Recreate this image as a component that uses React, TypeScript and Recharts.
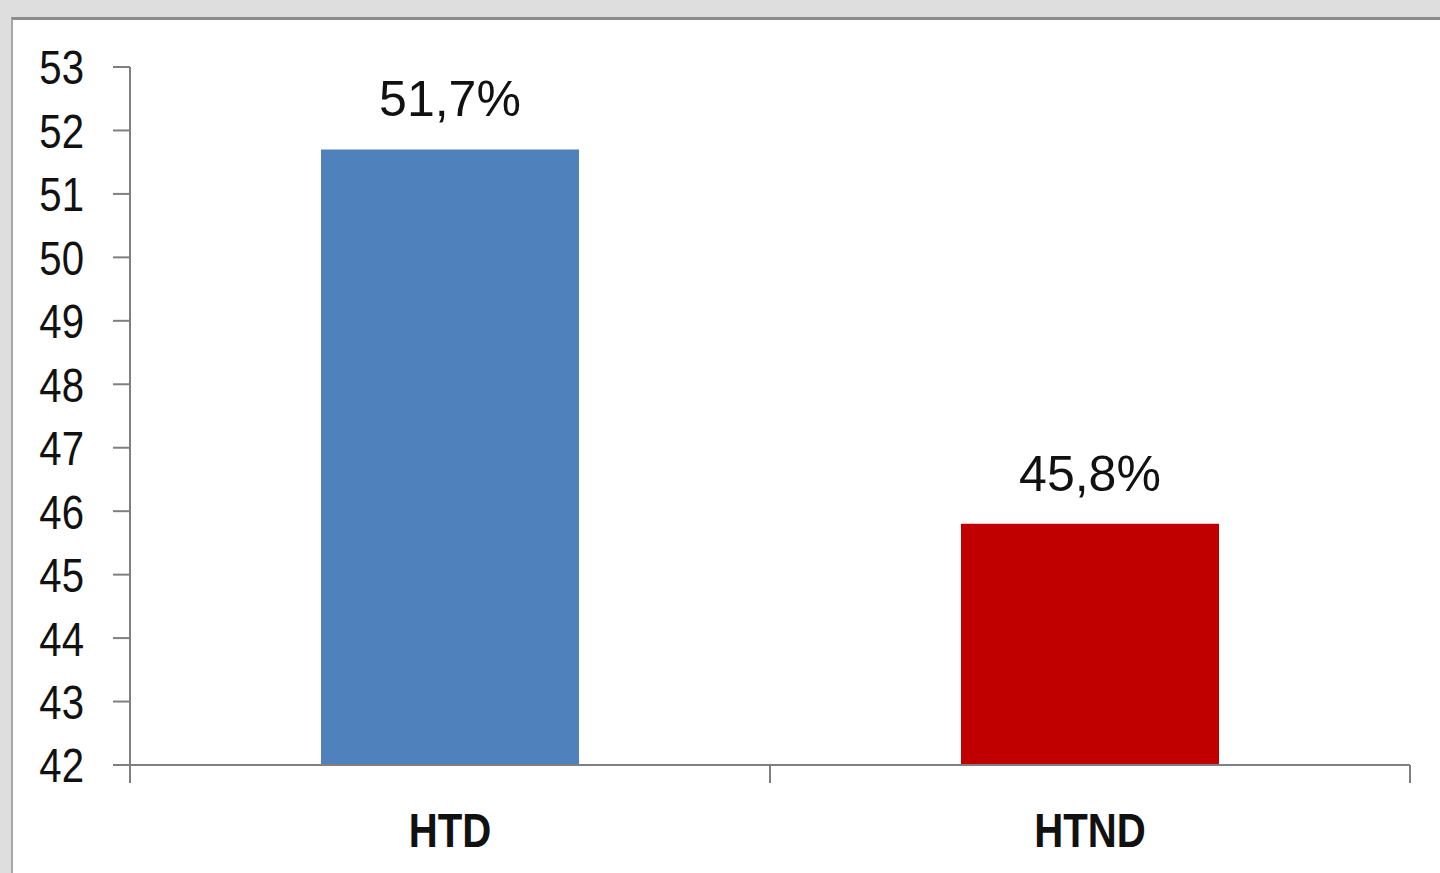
import React from 'react';
import { BarChart, Bar, XAxis, YAxis, Cell, LabelList } from 'recharts';

const categories = ['HTD', 'HTND'];
const values = [51.7, 45.8];
const barColors = ['#4f81bd', '#c00000'];
const yTicks = [42, 43, 44, 45, 46, 47, 48, 49, 50, 51, 52, 53];

const data = categories.map((name, i) => ({ name, value: values[i] }));

const fontFam = '"Liberation Sans", Arial, sans-serif';
const axisColor = '#7f7f7f';
const squeeze = 0.82;
const xTickLen = 18;
const xLabelGap = 47;

function YTick(props: any) {
  const { x, y, payload } = props;
  return (
    <g transform={`translate(${x},${y}) scale(${squeeze},1)`}>
      <text x={0} y={0} dy="0.355em" textAnchor="end" fill="#111111" fontSize={49} fontFamily={fontFam}>
        {payload.value}
      </text>
    </g>
  );
}

// Category tick: label at the band centre, tick marks at the band edges (as in the reference)
function XTick(props: any) {
  const { x, y, payload, index, visibleTicksCount } = props;
  const half = payload.offset || 0;
  const axisY = y - xLabelGap;
  const isLast = index === visibleTicksCount - 1;
  return (
    <g>
      <line x1={x - half} x2={x - half} y1={axisY} y2={axisY + xTickLen} stroke={axisColor} strokeWidth={2} />
      {isLast && <line x1={x + half} x2={x + half} y1={axisY} y2={axisY + xTickLen} stroke={axisColor} strokeWidth={2} />}
      <g transform={`translate(${x},${y}) scale(${squeeze},1)`}>
        <text x={0} y={0} dy="0.71em" textAnchor="middle" fill="#111111" fontSize={49} fontWeight="bold" fontFamily={fontFam}>
          {payload.value}
        </text>
      </g>
    </g>
  );
}

export default function App() {
  return (
    <div style={{ position: 'fixed', left: 0, top: 0, width: 1440, height: 873, background: '#dedede', overflow: 'hidden' }}>
      <div
        style={{
          position: 'absolute',
          left: 11,
          top: 17,
          right: 0,
          bottom: 0,
          background: '#ffffff',
          borderTop: '3px solid #8c8c8c',
          borderLeft: '2px solid #a6a6a6',
        }}
      />
      <div style={{ position: 'absolute', left: 0, top: 0 }}>
        <BarChart width={1440} height={873} data={data} margin={{ top: 67, right: 30, bottom: 0, left: 0 }} barCategoryGap="0%">
          <YAxis
            width={130}
            type="number"
            domain={[42, 53]}
            ticks={yTicks}
            interval={0}
            allowDataOverflow
            tickSize={17}
            tickMargin={29}
            axisLine={{ stroke: axisColor, strokeWidth: 2 }}
            tickLine={{ stroke: axisColor, strokeWidth: 2 }}
            tick={<YTick />}
          />
          <XAxis
            dataKey="name"
            height={108}
            axisLine={{ stroke: axisColor, strokeWidth: 2 }}
            tickLine={false}
            tickSize={0}
            tickMargin={xLabelGap}
            interval={0}
            tick={<XTick />}
          />
          <Bar dataKey="value" barSize={258} isAnimationActive={false}>
            {data.map((d, i) => (
              <Cell key={d.name} fill={barColors[i]} />
            ))}
            <LabelList
              dataKey="value"
              position="top"
              offset={33}
              formatter={(v: number) => v.toFixed(1).replace('.', ',') + '%'}
              style={{ fill: '#111111', fontSize: 50, fontFamily: fontFam }}
            />
          </Bar>
        </BarChart>
      </div>
    </div>
  );
}
